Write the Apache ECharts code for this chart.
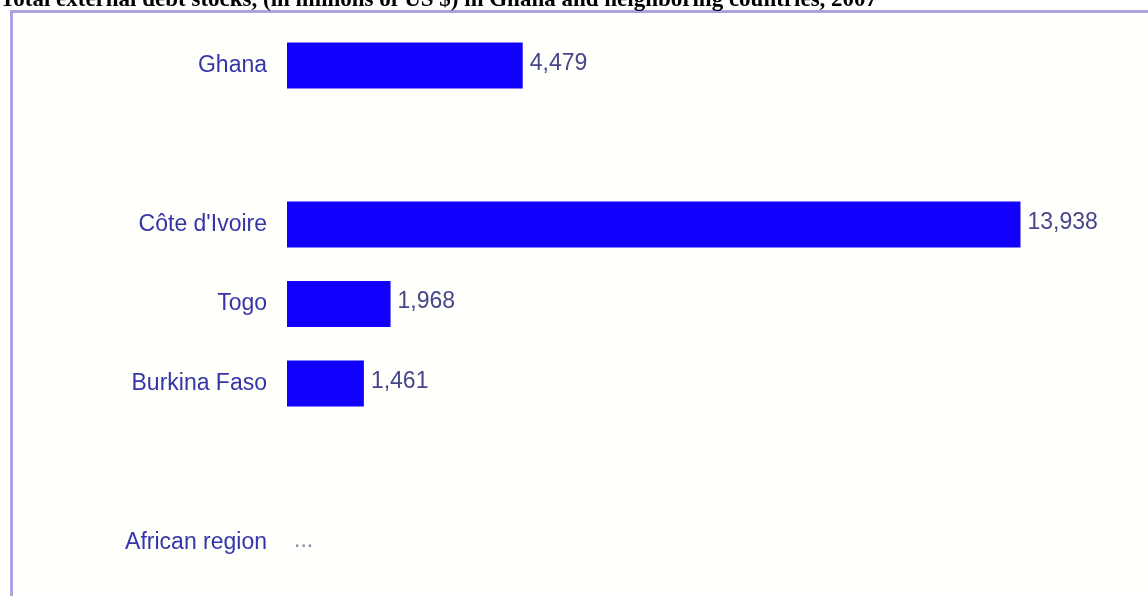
<!DOCTYPE html>
<html>
<head>
<meta charset="utf-8">
<title>Total external debt stocks</title>
<script src="https://cdn.jsdelivr.net/npm/echarts@6/dist/echarts.min.js"></script>
<style>
  html, body { margin: 0; padding: 0; background: #ffffff; }
  #chart { width: 1148px; height: 596px; }
</style>
</head>
<body>
<div id="chart"></div>
<script>
// data (millions of US $)
const countries = ['Ghana', '', "Côte d'Ivoire", 'Togo', 'Burkina Faso', '', 'African region'];
const debtStocks = [4479, null, 13938, 1968, 1461, null, null];
const axisMax = 16000;

// named rows without a value show "...", blank rows show nothing
const barData = debtStocks.map((v, i) => {
  if (v != null) return v;
  if (countries[i]) return { value: 0, label: { formatter: '...', color: '#8a8aa8' } };
  return '-';
});

const chart = echarts.init(document.getElementById('chart'));
chart.setOption({
  animation: false,
  textStyle: { fontFamily: '"Liberation Sans", Arial, sans-serif' },
  title: {
    text: 'Total external debt stocks, (in millions of US $) in Ghana and neighboring countries, 2007',
    left: 0,
    top: -11,
    padding: 0,
    textStyle: {
      fontFamily: '"Liberation Serif", "Times New Roman", serif',
      fontWeight: 'bold',
      fontSize: 23,
      color: '#000'
    }
  },
  graphic: [{
    type: 'rect',
    z: -10,
    silent: true,
    shape: { x: 11.5, y: 11.5, width: 1200, height: 700 },
    style: { fill: '#fffffc', stroke: '#aaa4dc', lineWidth: 3 }
  }],
  grid: {
    left: 287,
    right: 19,
    top: 25.75,
    bottom: 13.75,
    containLabel: false
  },
  xAxis: {
    type: 'value',
    min: 0,
    max: axisMax,
    show: false
  },
  yAxis: {
    type: 'category',
    data: countries,
    inverse: true,
    axisLine: { show: false },
    axisTick: { show: false },
    axisLabel: {
      margin: 20,
      fontSize: 23,
      color: '#3535aa'
    }
  },
  series: [{
    type: 'bar',
    data: barData,
    barWidth: 46,
    itemStyle: { color: '#1200ff' },
    label: {
      show: true,
      position: 'right',
      distance: 7,
      offset: [0, -2],
      fontSize: 23,
      color: '#46468a',
      formatter: p => Number(p.value).toLocaleString('en-US')
    }
  }]
});
</script>
</body>
</html>
